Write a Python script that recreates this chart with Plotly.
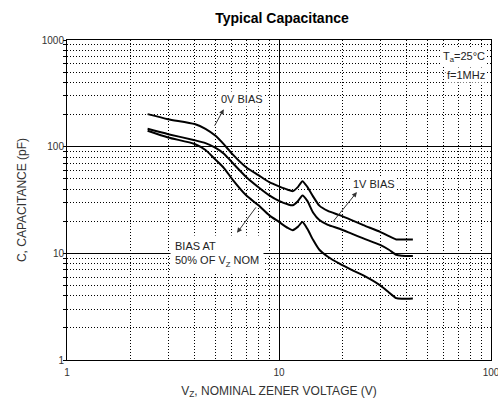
import math
import plotly.graph_objects as go

# ---- data ----
vz = [2.4, 3, 4, 4.5, 5, 5.5, 6, 7, 8, 9, 10, 11, 11.6, 12.3, 12.9, 13.6,
      14.5, 15.5, 17, 19.3, 22, 25, 30, 33, 35.7, 38, 42.8]
c_0v = [202, 181, 163, 147, 127, 105, 86, 64, 54, 46.5, 42.5, 39.5, 38.3, 42,
        47.5, 42, 34, 28, 25, 22.8, 20.5, 18.4, 15.9, 14.5, 13.5, 13.5, 13.5]
c_1v = [147, 131, 115, 108, 98, 86, 71.4, 52, 41.7, 35, 31, 28.8, 28.2, 31,
        34.9, 31, 24, 20.5, 18.5, 17, 15.3, 13.8, 12, 10.8, 9.7, 9.5, 9.45]
c_50 = [141, 122, 106, 93, 76, 63, 50, 35, 28.2, 22.7, 19.7, 17.3, 16.5, 17.8,
        19.7, 17, 13.3, 10.8, 9.3, 8, 7, 6.2, 5.0, 4.3, 3.8, 3.75, 3.78]

x_ticks = [1, 10, 100]
x_ticklabels = ["1", "10", "100"]
y_ticks = [1, 10, 100, 1000]
y_ticklabels = ["1", "10", "100", "1000"]

FONT = "Liberation Sans, Arial, sans-serif"

fig = go.Figure()
for ys in (c_0v, c_1v, c_50):
    fig.add_trace(go.Scatter(x=vz, y=ys, mode="lines",
                             line=dict(color="black", width=2, shape="spline", smoothing=0.6),
                             showlegend=False, hoverinfo="skip"))

grid_dot = "1px,2px"
fig.update_xaxes(type="log", range=[0, 2], tickvals=x_ticks, ticktext=x_ticklabels,
                 showgrid=True, gridcolor="black", gridwidth=1,
                 showline=True, linecolor="black", linewidth=1, mirror=True,
                 ticks="", ticklabelstandoff=3, ticklabeloverflow="allow",
                 tickfont=dict(family=FONT, size=10, color="#333"),
                 minor=dict(dtick="D1", showgrid=True, gridcolor="black", gridwidth=1,
                            griddash=grid_dot, ticks=""),
                 title=dict(text="V<sub>Z</sub>, NOMINAL ZENER VOLTAGE (V)",
                            font=dict(family=FONT, size=12, color="#333"), standoff=9),
                 automargin=False, zeroline=False)
fig.update_yaxes(type="log", range=[0, 3], tickvals=y_ticks, ticktext=y_ticklabels,
                 showgrid=True, gridcolor="black", gridwidth=1,
                 showline=True, linecolor="black", linewidth=1, mirror=True,
                 ticks="", tickfont=dict(family=FONT, size=10, color="#333"),
                 minor=dict(dtick="D1", showgrid=True, gridcolor="black", gridwidth=1,
                            griddash=grid_dot, ticks="outside", ticklen=3, tickcolor="black"),
                 title=dict(text="C, CAPACITANCE (pF)",
                            font=dict(family=FONT, size=12, color="#333"), standoff=12),
                 automargin=False, zeroline=False)

afont = dict(family=FONT, size=11, color="#222")
ann = []
# text labels
ann.append(dict(x=0.824, y=2.447, xref="x", yref="y", text="0V BIAS", showarrow=False,
                font=afont, bgcolor="white", borderpad=1))
ann.append(dict(x=1.446, y=1.646, xref="x", yref="y", text="1V BIAS", showarrow=False,
                font=afont, bgcolor="white", borderpad=1))
ann.append(dict(x=0.485, y=0.99, xref="x", yref="y", xanchor="left",
                text="BIAS AT<br>50% OF V<sub>Z</sub> NOM", align="left", showarrow=False,
                font=afont, bgcolor="white", borderpad=4))
ann.append(dict(x=0.991, y=2.84, xref="paper", yref="y", xanchor="right",
                text="T<sub>a</sub>=25°C", showarrow=False, font=afont, bgcolor="white", borderpad=1))
ann.append(dict(x=0.991, y=2.67, xref="paper", yref="y", xanchor="right",
                text="f=1MHz", showarrow=False, font=afont, bgcolor="white", borderpad=1))
# arrows
for hx, hy, ax, ay in [(0.7395, 2.351, -10, 18), (1.3674, 1.574, -25, 31), (0.802, 1.192, 20, -27)]:
    ann.append(dict(x=hx, y=hy, xref="x", yref="y", text="", showarrow=True,
                    arrowhead=2, arrowsize=1, arrowwidth=1, arrowcolor="#333",
                    ax=ax, ay=ay, standoff=0))

fig.update_layout(
    width=498, height=401,
    margin=dict(l=67, r=7, t=40, b=41, autoexpand=False),
    paper_bgcolor="white", plot_bgcolor="white",
    title=dict(text="<b>Typical Capacitance</b>", x=(67 + 215) / 498, xanchor="center",
               y=1 - 18 / 401, yanchor="middle",
               font=dict(family=FONT, size=14, color="black")),
    annotations=ann,
)

fig.write_html("out.html", config={"displayModeBar": False},
               post_script="document.body.style.margin='0';document.body.style.overflow='hidden';")
